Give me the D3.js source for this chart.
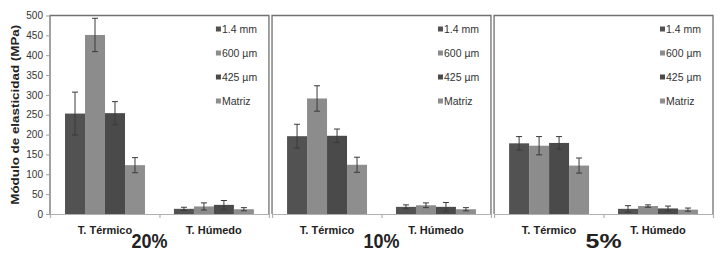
<!DOCTYPE html>
<html>
<head>
<meta charset="utf-8">
<script src="https://cdn.jsdelivr.net/npm/d3@7"></script>
<style>
  body { margin: 0; background: #fff; }
  svg { display: block; font-family: "Liberation Sans", Arial, sans-serif; }
</style>
</head>
<body>
<svg id="chart" width="725" height="263"></svg>
<script>
const panels = ["20%", "10%", "5%"];
const groups = ["T. Térmico", "T. Húmedo"];
const series = ["1.4 mm", "600 µm", "425 µm", "Matriz"];
const yTicks = [0, 50, 100, 150, 200, 250, 300, 350, 400, 450, 500];

// means per panel, [Térmico, Húmedo] x series
const values20 = [[253, 451, 254, 123], [13, 19, 23, 12]];
const values10 = [[196, 291, 197, 124], [18, 22, 18, 12]];
const values5  = [[178, 172, 179, 122], [13, 20, 14, 11]];
// error bar half widths
const errors20 = [[54, 42, 29, 19], [4, 9, 11, 4]];
const errors10 = [[30, 32, 17, 19], [5, 6, 11, 4]];
const errors5  = [[17, 23, 16, 19], [8, 3, 6, 4]];

const allValues = [values20, values10, values5];
const allErrors = [errors20, errors10, errors5];

const svg = d3.select("#chart");
const margin = { top: 15.5, left: 50, right: 12, bottom: 49 };
const plotBottom = 214;

const xPanel = d3.scaleBand().domain(panels).range([margin.left, 725 - margin.right]).paddingInner(0.014);
const bw = xPanel.bandwidth();
const x0 = d3.scaleBand().domain(groups).range([0, bw]).paddingInner(0.266).paddingOuter(0.138);
const x1 = d3.scaleBand().domain(series).range([0, x0.bandwidth()]);
const y = d3.scaleLinear().domain([0, 500]).range([plotBottom, margin.top]);
const color = d3.scaleOrdinal().domain(series).range(["#525252", "#8c8c8c", "#4a4a4a", "#8e8e8e"]);

panels.forEach(function(p, i) {
    const g = svg.append("g").attr("transform", `translate(${xPanel(p)},0)`);

    // bottom axis line with ticks
    const xb = d3.scaleLinear().domain([0, 2]).range([0, bw]);
    const ax = g.append("g")
        .attr("transform", `translate(0,${plotBottom})`)
        .call(d3.axisBottom(xb).tickValues([0, 1, 2]).tickFormat("").tickSize(4).tickSizeOuter(0));
    ax.selectAll("path, line").attr("stroke", "#b0b0b0").attr("stroke-width", 1.2);

    // bars
    groups.forEach(function(grp, gi) {
        const gg = g.append("g").attr("transform", `translate(${x0(grp)},0)`);
        gg.selectAll("rect")
            .data(series)
            .enter().append("rect")
            .attr("x", s => x1(s))
            .attr("y", (s, si) => y(allValues[i][gi][si]))
            .attr("width", x1.bandwidth())
            .attr("height", (s, si) => plotBottom - y(allValues[i][gi][si]))
            .attr("fill", s => color(s));

        const eb = gg.selectAll(".err")
            .data(series)
            .enter().append("g")
            .attr("class", "err")
            .attr("stroke", "#3a3a3a")
            .attr("stroke-width", 1);
        eb.append("line")
            .attr("x1", s => x1(s) + x1.bandwidth() / 2)
            .attr("x2", s => x1(s) + x1.bandwidth() / 2)
            .attr("y1", (s, si) => y(allValues[i][gi][si] + allErrors[i][gi][si]))
            .attr("y2", (s, si) => y(allValues[i][gi][si] - allErrors[i][gi][si]));
        [1, -1].forEach(function(sign) {
            eb.append("line")
                .attr("x1", s => x1(s) + x1.bandwidth() / 2 - 3)
                .attr("x2", s => x1(s) + x1.bandwidth() / 2 + 3)
                .attr("y1", (s, si) => y(allValues[i][gi][si] + sign * allErrors[i][gi][si]))
                .attr("y2", (s, si) => y(allValues[i][gi][si] + sign * allErrors[i][gi][si]));
        });

        g.append("text")
            .attr("x", x0(grp) + x0.bandwidth() / 2)
            .attr("y", 234)
            .attr("text-anchor", "middle")
            .style("font-size", "11px")
            .style("font-weight", "bold")
            .attr("fill", "#222")
            .text(grp);
    });

    // panel frame: top, left, right
    g.append("path")
        .attr("d", `M0,${plotBottom}V${margin.top}H${bw}V${plotBottom}`)
        .attr("fill", "none")
        .attr("stroke", "#707070")
        .attr("stroke-width", 1.3);

    // legend
    const leg = g.selectAll(".legend")
        .data(series)
        .enter().append("g")
        .attr("class", "legend")
        .attr("transform", (s, si) => `translate(${bw - 53},${29 + si * 24})`);
    leg.append("rect")
        .attr("x", 0)
        .attr("y", -2.5)
        .attr("width", 5)
        .attr("height", 5)
        .attr("fill", s => color(s));
    leg.append("text")
        .attr("x", 6)
        .attr("dy", "0.35em")
        .style("font-size", "10.5px")
        .attr("fill", "#333")
        .text(s => s);

    // percentage label
    g.append("text")
        .attr("x", bw / 2 - (i === 0 ? 10 : 0))
        .attr("y", 248)
        .attr("text-anchor", "middle")
        .style("font-size", "20px")
        .style("font-weight", "bold")
        .attr("textLength", 36)
        .attr("lengthAdjust", "spacingAndGlyphs")
        .attr("fill", "#222")
        .text(p);

    if (i === 0) {
        const ay = g.append("g")
            .call(d3.axisLeft(y).tickValues(yTicks).tickSize(4).tickSizeOuter(0));
        ay.select(".domain").remove();
        ay.selectAll("line").attr("stroke", "#a0a0a0");
        ay.selectAll("text")
            .style("font-size", "10px")
            .attr("fill", "#333")
            .attr("x", -7);
    }
});

svg.append("text")
    .attr("transform", "rotate(-90)")
    .attr("x", -(margin.top + plotBottom) / 2)
    .attr("y", 19)
    .attr("text-anchor", "middle")
    .style("font-size", "11.5px")
    .style("font-weight", "bold")
    .attr("textLength", 180)
    .attr("lengthAdjust", "spacingAndGlyphs")
    .attr("fill", "#222")
    .text("Módulo de elasticidad (MPa)");
</script>
</body>
</html>
